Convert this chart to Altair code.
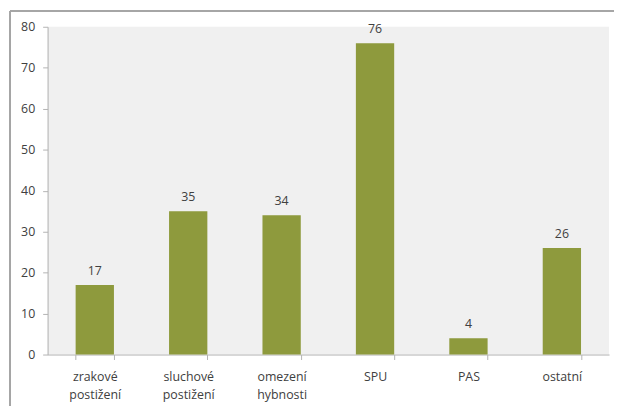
import altair as alt
import pandas as pd

categories = ["zrakové\npostižení", "sluchové\npostižení", "omezení\nhybnosti", "SPU", "PAS", "ostatní"]
values = [17, 35, 34, 76, 4, 26]

df = pd.DataFrame({"kat": categories, "pocet": values})

FONT = "Open Sans"
TXT = "#404040"

x_enc = alt.X("kat:N", sort=categories, title=None,
              scale=alt.Scale(paddingInner=0.59, paddingOuter=0.3),
              axis=alt.Axis(labelAngle=0, labelExpr="split(datum.label, '\\n')",
                            tickBand="extent", domainColor="#b3b3b3", tickColor="#b3b3b3",
                            tickSize=5, labelPadding=11, labelFont=FONT, labelFontSize=12.5,
                            labelColor=TXT, labelLineHeight=18))
y_enc = alt.Y("pocet:Q", title=None,
              scale=alt.Scale(domain=[0, 80]),
              axis=alt.Axis(values=list(range(0, 81, 10)), grid=False, domainColor="#b3b3b3",
                            tickColor="#b3b3b3", tickSize=5, labelPadding=8,
                            labelFont=FONT, labelFontSize=12.5, labelColor=TXT))

bars = alt.Chart(df).mark_bar(color="#8e9a3d").encode(x=x_enc, y=y_enc)
labels = alt.Chart(df).mark_text(baseline="bottom", dy=-7, font=FONT, fontSize=12.5,
                                 color=TXT).encode(
    x=alt.X("kat:N", sort=categories), y="pocet:Q", text="pocet:Q")

frame_v = alt.Chart(df).mark_rule(color="#a6a6a6", strokeWidth=1.5).encode(
    x=alt.value(-38), y=alt.value(-16), y2=alt.value(400))
frame_h = alt.Chart(df).mark_rule(color="#a6a6a6", strokeWidth=1.5).encode(
    x=alt.value(-38), x2=alt.value(572), y=alt.value(-16))

chart = alt.layer(bars, labels, frame_v, frame_h).properties(
    width=567, height=331,
    autosize=alt.AutoSizeParams(type="none"),
    padding={"left": 40, "top": 17, "right": 5, "bottom": 50},
    background="white",
).configure_view(fill="#f0f0f0", stroke=None)

chart.save("out.html", embed_options={"renderer": "svg", "actions": False})
